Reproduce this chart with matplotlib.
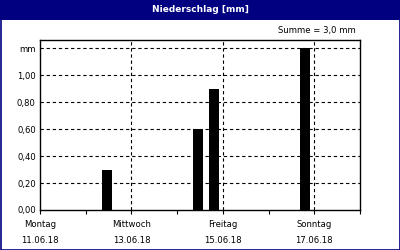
import matplotlib
matplotlib.use("Agg")
import matplotlib.pyplot as plt
from matplotlib.patches import Rectangle
from matplotlib.ticker import FixedLocator, NullFormatter

# Data (days since Montag 11.06.18 00:00)
bar_pos = [1.46, 3.46, 3.81, 5.80]
bar_vals = [0.3, 0.6, 0.9, 1.2]
bar_width = 0.21
day_ticks = [0, 2, 4, 6]
day_names = ["Montag", "Mittwoch", "Freitag", "Sonntag"]
day_dates = ["11.06.18", "13.06.18", "15.06.18", "17.06.18"]
y_ticks = [0.0, 0.2, 0.4, 0.6, 0.8, 1.0, 1.2]
y_labels = ["0,00", "0,20", "0,40", "0,60", "0,80", "1,00", "mm"]
title = "Niederschlag [mm]"
summe = "Summe = 3,0 mm"

navy = "#000080"
fig = plt.figure(figsize=(4, 2.5), dpi=100)
fig.patch.set_facecolor("white")

# title bar and border
fig.patches.append(Rectangle((0, 230/250), 1, 20/250, transform=fig.transFigure,
                             facecolor=navy, edgecolor="none", zorder=0))
fig.patches.append(Rectangle((0.5/400, 0.5/250), 399/400, 249/250, transform=fig.transFigure,
                             facecolor="none", edgecolor=navy, linewidth=1.2, zorder=5))
fig.text(0.5, 240/250, title, color="white", ha="center", va="center",
         fontsize=6.5, fontweight="bold", family="DejaVu Sans")
fig.text(356/400, 219/250, summe, ha="right", va="center", fontsize=6.1, color="#000000")

ax = fig.add_axes([40/400, 40/250, 320/400, 170/250])
ax.bar(bar_pos, bar_vals, width=bar_width, color="#000000", align="center", zorder=3)
ax.set_xlim(0, 7)
ax.set_ylim(0, 1.26)

ax.set_yticks(y_ticks)
ax.set_yticklabels(y_labels, fontsize=6.1)
ax.set_xticks(day_ticks)
ax.set_xticklabels([f"{n}\n\n{d}" for n, d in zip(day_names, day_dates)], fontsize=6.1,
                   linespacing=0.9)
ax.xaxis.set_minor_locator(FixedLocator([1, 3, 5, 7]))
ax.xaxis.set_minor_formatter(NullFormatter())
ax.tick_params(axis="x", which="both", length=3, width=0.8, direction="out", pad=4)
ax.tick_params(axis="y", length=0, pad=3)

for y in y_ticks[1:]:
    ax.axhline(y, color="black", linestyle=(0, (3, 2.5)), linewidth=0.8, zorder=1)
for x in [2, 4, 6]:
    ax.axvline(x, color="black", linestyle=(0, (3, 2.5)), linewidth=0.8, zorder=1)

for s in ax.spines.values():
    s.set_linewidth(1.0)
    s.set_color("black")

fig.savefig("out.png", dpi=100, facecolor="white")
